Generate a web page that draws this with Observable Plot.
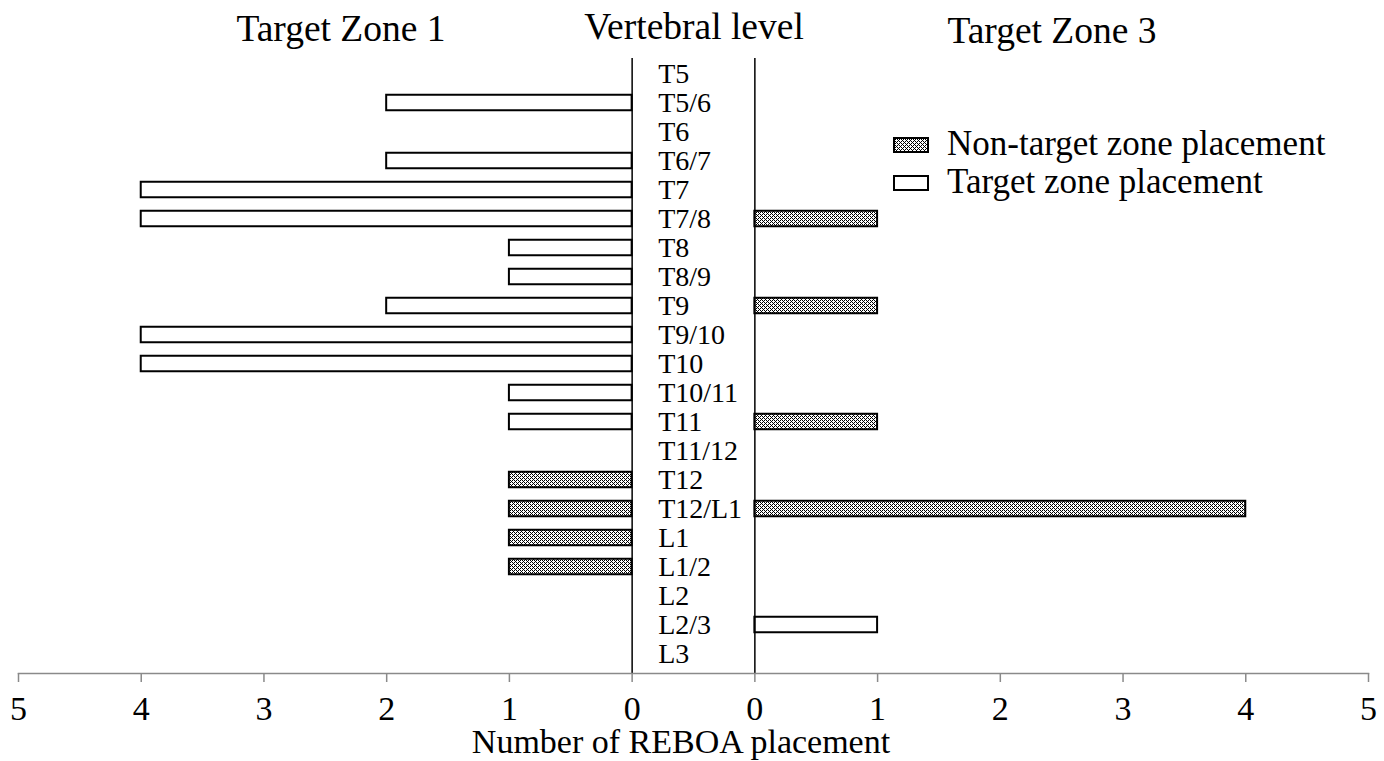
<!DOCTYPE html>
<html>
<head>
<meta charset="utf-8">
<script src="https://cdn.jsdelivr.net/npm/d3@7"></script>
<script src="https://cdn.jsdelivr.net/npm/@observablehq/plot@0.6"></script>
<style>
  body { margin: 0; background: #fff; }
  #wrap { position: relative; width: 1384px; height: 761px; font-family: "Liberation Serif", "Times New Roman", serif; color: #000; }
  #wrap svg.plot { position: absolute; left: 0; top: 0; }
  .ttl { position: absolute; width: 400px; text-align: center; font-size: 37.5px; line-height: 38px; white-space: nowrap; }
  .leg { position: absolute; font-size: 35px; line-height: 38px; white-space: nowrap; }
  .sw { position: absolute; }
  .xlab { position: absolute; width: 600px; text-align: center; font-size: 34px; line-height: 34px; white-space: nowrap; }
</style>
</head>
<body>
<svg width="0" height="0" style="position:absolute">
  <defs>
    <pattern id="chk" width="4" height="4" patternUnits="userSpaceOnUse">
      <rect width="4" height="4" fill="#000"/>
      <rect x="1" y="0" width="1" height="3" fill="#fff"/>
      <rect x="0" y="1" width="3" height="1" fill="#fff"/>
      <rect x="3" y="2" width="1" height="2" fill="#fff"/>
      <rect x="3" y="0" width="1" height="1" fill="#fff"/>
      <rect x="2" y="3" width="1" height="1" fill="#fff"/>
      <rect x="0" y="3" width="1" height="1" fill="#fff"/>
    </pattern>
  </defs>
</svg>
<div id="wrap"></div>
<script>
// ---- data ----
const levels = ["T5","T5/6","T6","T6/7","T7","T7/8","T8","T8/9","T9","T9/10","T10","T10/11","T11","T11/12","T12","T12/L1","L1","L1/2","L2","L2/3","L3"];
// Target Zone 1 (left panel)
const zone1Target    = [0,2,0,2,4,4,1,1,2,4,4,1,1,0,0,0,0,0,0,0,0];
const zone1NonTarget = [0,0,0,0,0,0,0,0,0,0,0,0,0,0,1,1,1,1,0,0,0];
// Target Zone 3 (right panel)
const zone3Target    = [0,0,0,0,0,0,0,0,0,0,0,0,0,0,0,0,0,0,0,1,0];
const zone3NonTarget = [0,0,0,0,0,1,0,0,1,0,0,0,1,0,0,4,0,0,0,0,0];
const tickValuesLeft  = [5,4,3,2,1,0];
const tickValuesRight = [0,1,2,3,4,5];
const seriesNames = ["Non-target zone placement","Target zone placement"];

// gap between the two panels = 1 unit; left zero at -0.5, right zero at +0.5
const half = 0.5;
const bars = [];
levels.forEach((lv, i) => {
  if (zone1Target[i])    bars.push({level: lv, x1: -half - zone1Target[i], x2: -half, kind: "target"});
  if (zone1NonTarget[i]) bars.push({level: lv, x1: -half - zone1NonTarget[i], x2: -half, kind: "non"});
  if (zone3Target[i])    bars.push({level: lv, x1: half, x2: half + zone3Target[i], kind: "target"});
  if (zone3NonTarget[i]) bars.push({level: lv, x1: half, x2: half + zone3NonTarget[i], kind: "non"});
});
const tickPos = [...tickValuesLeft.map(v => -half - v), ...tickValuesRight.map(v => half + v)];
const tickLab = new Map(tickPos.map((p, i) => [p, String([...tickValuesLeft, ...tickValuesRight][i])]));

const marks = [
  Plot.barX(bars, {
    y: "level", x1: "x1", x2: "x2",
    fill: d => d.kind === "non" ? "url(#chk)" : "#fff",
    stroke: "#000", strokeWidth: 2,
    insetTop: 6.75, insetBottom: 6.75
  }),
  Plot.ruleX([-half, half], {stroke: "#000", strokeWidth: 1.5, insetTop: 5}),
  Plot.frame({anchor: "bottom", stroke: "#8a8a8a", strokeWidth: 1.5}),
  Plot.text(levels, {x: -half, y: d => d, text: d => d, textAnchor: "start", dx: 26, fontSize: 28, fill: "#000"})
];
let xScale = {domain: [-5.5, 5.5], axis: null};
if (typeof Plot.axisX === "function") {
  marks.push(Plot.axisX({ticks: tickPos, tickSize: 9, tickFormat: () => "", stroke: "#8a8a8a", strokeWidth: 1.5, label: null}));
  marks.push(Plot.axisX({ticks: tickPos, tickSize: 0, tickPadding: 22, tickFormat: d => tickLab.get(d), fontSize: 34, color: "#000", label: null}));
} else {
  xScale = {domain: [-5.5, 5.5], ticks: tickPos, tickFormat: d => tickLab.get(d), tickSize: 9, tickPadding: 13, label: null};
}

const plot = Plot.plot({
  width: 1384,
  height: 761,
  marginLeft: 18,
  marginRight: 16,
  marginTop: 53,
  marginBottom: 88,
  style: {fontFamily: "'Liberation Serif', 'Times New Roman', serif", background: "transparent", fontSize: "34px"},
  x: xScale,
  y: {domain: levels, padding: 0, axis: null},
  marks
});
plot.classList.add("plot");
const wrap = document.getElementById("wrap");
wrap.appendChild(plot);

function addDiv(cls, text, left, top) {
  const d = document.createElement("div");
  d.className = cls; d.textContent = text;
  d.style.left = left + "px"; d.style.top = top + "px";
  wrap.appendChild(d);
}
addDiv("ttl", "Target Zone 1", 341 - 200, 10);
addDiv("ttl", "Vertebral level", 694 - 200, 8);
addDiv("ttl", "Target Zone 3", 1052 - 200, 12);
addDiv("xlab", "Number of REBOA placement", 681 - 300, 725);
addDiv("leg", seriesNames[0], 947, 125);
addDiv("leg", seriesNames[1], 947, 163);

function swatch(fill, left, top, h) {
  const ns = "http://www.w3.org/2000/svg";
  const s = document.createElementNS(ns, "svg");
  s.setAttribute("class", "sw");
  s.setAttribute("width", 37); s.setAttribute("height", h + 2);
  s.style.left = left + "px"; s.style.top = top + "px";
  const r = document.createElementNS(ns, "rect");
  r.setAttribute("x", 1); r.setAttribute("y", 1);
  r.setAttribute("width", 34); r.setAttribute("height", h);
  r.setAttribute("fill", fill); r.setAttribute("stroke", "#000"); r.setAttribute("stroke-width", 2);
  s.appendChild(r);
  wrap.appendChild(s);
}
swatch("url(#chk)", 893, 137, 14);
swatch("#fff", 893, 175, 14);
</script>
</body>
</html>
